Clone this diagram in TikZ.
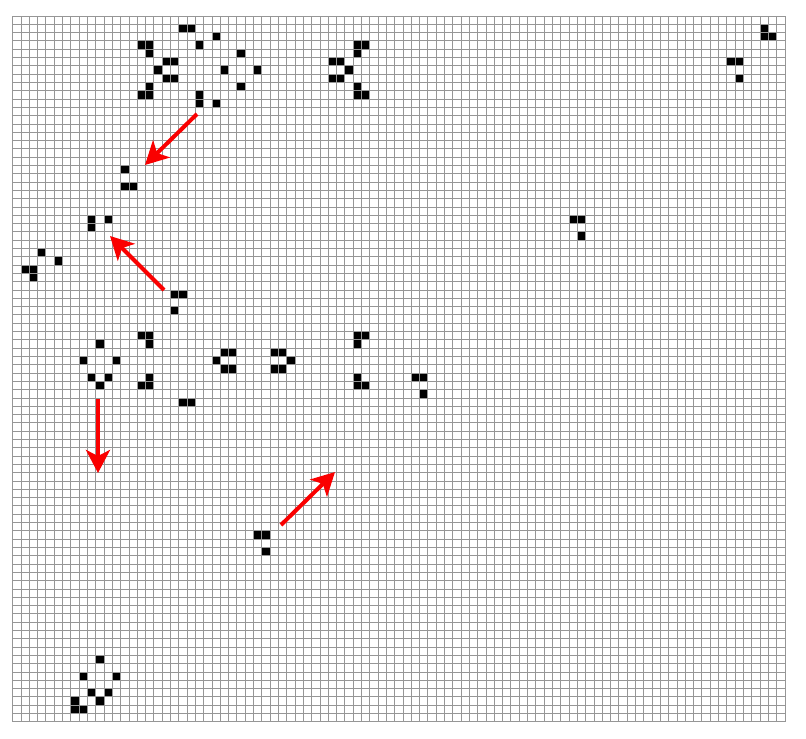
\documentclass[tikz,border=0pt]{standalone}
\usetikzlibrary{arrows.meta}
\definecolor{gridgray}{RGB}{150,150,150}
\definecolor{arrowred}{RGB}{250,0,0}
\tikzset{
  livecell/.style={fill=black,draw=none},
  gridline/.style={draw=gridgray,line width=0.9pt},
  movearrow/.style={draw=arrowred,line width=4pt,-{Stealth[length=23pt,width=24pt,inset=6pt]}},
}
\begin{document}
\begin{tikzpicture}[x=1pt,y=-1pt]
\useasboundingbox (0,0) rectangle (806,739);
\fill[white] (0,0) rectangle (806,739);
\def\cs{8.304}
\def\xo{12.7}
\def\yo{16}
% live cells (column/row)
\foreach \c/\r in {20/1,21/1,90/1,
  24/2,90/2,91/2,
  15/3,16/3,22/3,41/3,42/3,
  16/4,27/4,41/4,
  18/5,19/5,38/5,39/5,86/5,87/5,
  17/6,25/6,29/6,40/6,
  18/7,19/7,38/7,39/7,87/7,
  16/8,27/8,41/8,
  15/9,16/9,22/9,41/9,42/9,
  22/10,24/10,
  13/18,
  13/20,14/20,
  9/24,11/24,67/24,68/24,
  9/25,
  68/26,
  3/28,
  5/29,
  1/30,2/30,
  2/31,
  19/33,20/33,
  19/35,
  15/38,16/38,41/38,42/38,
  10/39,16/39,41/39,
  25/40,26/40,31/40,32/40,
  8/41,12/41,24/41,33/41,
  25/42,26/42,31/42,32/42,
  9/43,11/43,16/43,41/43,48/43,49/43,
  10/44,15/44,16/44,41/44,42/44,
  49/45,
  20/46,21/46,
  29/62,30/62,
  30/64,
  10/77,
  8/79,12/79,
  9/81,11/81,
  7/82,10/82,
  7/83,8/83}
  {\path[livecell] ({\xo+\c*\cs},{\yo+\r*\cs}) rectangle ++(\cs,\cs);}
% grid
\foreach \i in {0,...,93}
  {\draw[gridline] ({\xo+\i*\cs},\yo) -- ({\xo+\i*\cs},{\yo+85*\cs});}
\foreach \j in {0,...,85}
  {\draw[gridline] (\xo,{\yo+\j*\cs}) -- ({\xo+93*\cs},{\yo+\j*\cs});}
% arrows
\coordinate (a1s) at (197,114); \coordinate (a1e) at (145,165);
\coordinate (a2s) at (164,290); \coordinate (a2e) at (110,236);
\coordinate (a3s) at (98,399);  \coordinate (a3e) at (98,473);
\coordinate (a4s) at (281,525); \coordinate (a4e) at (335,472);
\draw[movearrow] (a1s) -- (a1e);
\draw[movearrow] (a2s) -- (a2e);
\draw[movearrow] (a3s) -- (a3e);
\draw[movearrow] (a4s) -- (a4e);
\end{tikzpicture}
\end{document}
